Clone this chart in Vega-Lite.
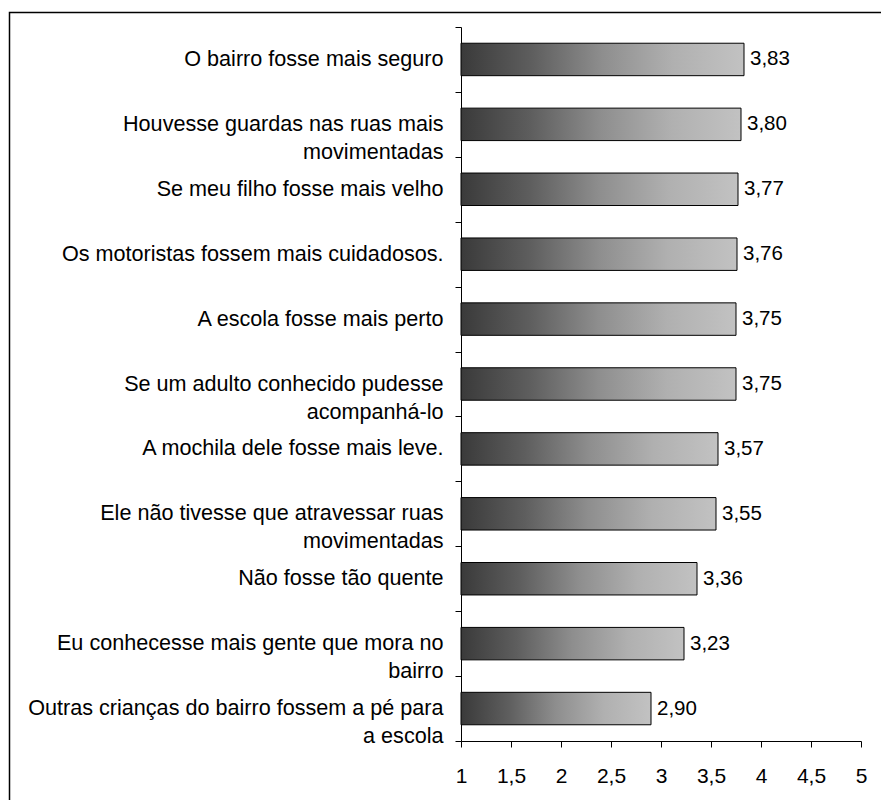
{
  "$schema": "https://vega.github.io/schema/vega-lite/v6.json",
  "width": 400,
  "height": 714,
  "autosize": {"type": "none"},
  "padding": {"left": 461, "top": 27, "right": 20, "bottom": 59},
  "background": "white",
  "config": {
    "locale": {"number": {"decimal": ",", "thousands": ".", "grouping": [3], "currency": ["", ""]}},
    "view": {"stroke": null},
    "font": "Liberation Sans",
    "axis": {"domainColor": "black", "tickColor": "black", "labelColor": "black", "grid": false, "domainWidth": 1, "tickWidth": 1}
  },
  "data": {
    "values": [
      {"label": "O bairro fosse mais seguro", "value": 3.83},
      {"label": "Houvesse guardas nas ruas mais\nmovimentadas", "value": 3.80},
      {"label": "Se meu filho fosse mais velho", "value": 3.77},
      {"label": "Os motoristas fossem mais cuidadosos.", "value": 3.76},
      {"label": "A escola fosse mais perto", "value": 3.75},
      {"label": "Se um adulto conhecido pudesse\nacompanhá-lo", "value": 3.75},
      {"label": "A mochila dele fosse mais leve.", "value": 3.57},
      {"label": "Ele não tivesse que atravessar ruas\nmovimentadas", "value": 3.55},
      {"label": "Não fosse tão quente", "value": 3.36},
      {"label": "Eu conhecesse mais gente que mora no\nbairro", "value": 3.23},
      {"label": "Outras crianças do bairro fossem a pé para\na escola", "value": 2.90}
    ]
  },
  "layer": [
    {
      "data": {"values": [{"frame": "border"}]},
      "mark": {"type": "rect", "fill": "transparent", "stroke": "black", "strokeWidth": 1.5, "clip": false},
      "encoding": {
        "x": {"datum": -3.515, "type": "quantitative", "scale": {"domain": [1, 5], "zero": false, "nice": false}},
        "x2": {"datum": 7},
        "y": {"datum": 1.0203, "type": "quantitative", "scale": {"domain": [0, 1], "zero": false, "nice": false}, "axis": null},
        "y2": {"datum": -0.3}
      }
    },
    {
      "encoding": {
        "x": {
          "field": "value",
          "type": "quantitative",
          "scale": {"domain": [1, 5], "zero": false, "nice": false},
          "axis": {
            "title": null,
            "values": [1, 1.5, 2, 2.5, 3, 3.5, 4, 4.5, 5],
            "format": "~g",
            "tickSize": 6,
            "labelFontSize": 21,
            "labelPadding": 18,
            "labelFlush": false
          }
        },
        "y": {
          "field": "label",
          "type": "nominal",
          "sort": null,
          "scale": {"paddingInner": 0, "paddingOuter": 0},
          "axis": {
            "title": null,
            "tickSize": 6,
            "tickBand": "extent",
            "labelFontSize": 21.6,
            "labelLineHeight": 28,
            "labelLimit": 0,
            "labelBound": false,
            "labelPadding": 12,
            "labelExpr": "split(datum.label, '\\n')"
          }
        }
      },
      "layer": [
        {
          "mark": {
            "type": "bar",
            "height": {"band": 0.5},
            "stroke": "black",
            "strokeWidth": 1,
            "fill": {
              "gradient": "linear",
              "x1": 0, "x2": 1, "y1": 0, "y2": 0,
              "stops": [
                {"offset": 0, "color": "#3a3a3a"},
                {"offset": 0.25, "color": "#5e5e5e"},
                {"offset": 0.5, "color": "#8e8e8e"},
                {"offset": 0.75, "color": "#b0b0b0"},
                {"offset": 1, "color": "#c2c2c2"}
              ]
            }
          },
          "encoding": {
            "x2": {"datum": 1}
          }
        },
        {
          "mark": {"type": "text", "align": "left", "baseline": "middle", "dx": 6, "fontSize": 20.5, "color": "black"},
          "encoding": {
            "text": {"field": "value", "type": "quantitative", "format": ".2f"}
          }
        }
      ]
    }
  ],
  "resolve": {"scale": {"y": "independent"}}
}
